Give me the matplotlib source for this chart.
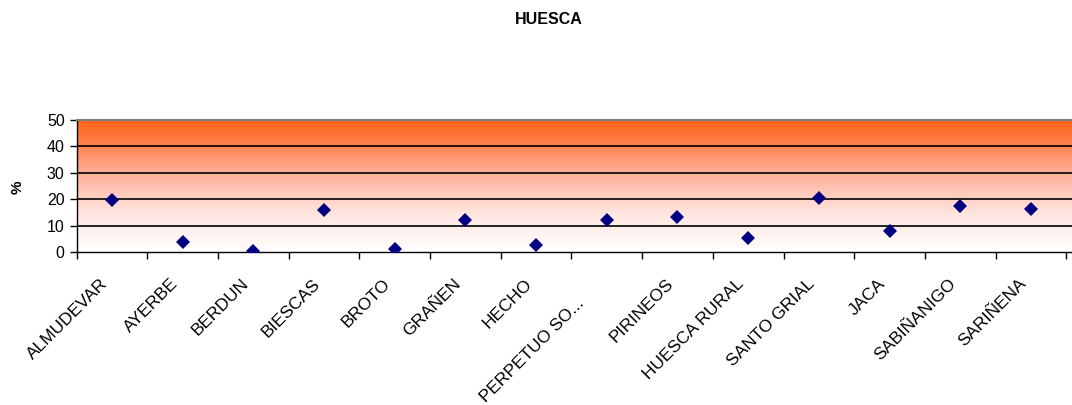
import matplotlib
matplotlib.use("Agg")
import matplotlib.pyplot as plt
import matplotlib.transforms as mtransforms
from matplotlib.colors import LinearSegmentedColormap
import numpy as np

plt.rcParams['font.family'] = ['Liberation Sans', 'DejaVu Sans']

# data
comarcas = ['ALMUDEVAR', 'AYERBE', 'BERDUN', 'BIESCAS', 'BROTO', 'GRAÑEN',
            'HECHO', 'PERPETUO SO...', 'PIRINEOS', 'HUESCA RURAL',
            'SANTO GRIAL', 'JACA', 'SABIÑANIGO', 'SARIÑENA']
porcentaje = [19.8, 3.8, 0.5, 15.9, 1.0, 12.1, 2.7, 12.1, 13.1, 5.4,
              20.3, 8.1, 17.4, 16.3]
y_ticks = [0, 10, 20, 30, 40, 50]


def main():
    fig = plt.figure(figsize=(10.72, 4.05), dpi=100)
    ax = fig.add_axes([76.5 / 1072, 1 - 252 / 405, 1 - 76.5 / 1072, 132 / 405])

    n = len(comarcas)
    x = np.arange(n)
    x_max = -0.5 + (1072 - 76.5) / 70.7

    # background gradient (white at bottom -> orange at top)
    cmap = LinearSegmentedColormap.from_list(
        'huesca', [(0.0, '#FFFFFF'), (0.3, '#FFE4DE'), (0.6, '#FFAE98'),
                   (0.85, '#FF7A45'), (1.0, '#FF6418')])
    grad = np.linspace(0, 1, 256).reshape(-1, 1)
    ax.imshow(grad, cmap=cmap, origin='lower', aspect='auto',
              extent=[-0.5, x_max, 0, 50], zorder=0)

    for t in y_ticks[1:-1]:
        ax.axhline(t, color='black', lw=1.2, zorder=1)

    ax.plot(x, porcentaje, linestyle='none', marker='D', markersize=7.6,
            color='#000080', markeredgewidth=0, zorder=3)

    ax.set_xlim(-0.5, x_max)
    ax.set_ylim(0, 50)
    ax.set_yticks(y_ticks)
    ax.tick_params(axis='y', labelsize=11.5, length=5, width=1, direction='out')

    # category boundaries as ticks, labels placed by hand
    ax.set_xticks(np.arange(0, n + 1) - 0.5)
    ax.set_xticklabels([])
    ax.tick_params(axis='x', length=5, width=1, direction='out')
    for i, name in enumerate(comarcas):
        dx, dy = -12, -24
        if name.startswith('PERPETUO'):
            dx, dy = -30, -44
        off = mtransforms.ScaledTranslation(dx / 100, dy / 100, fig.dpi_scale_trans)
        tr = mtransforms.blended_transform_factory(ax.transData, ax.transAxes) + off
        ax.text(i, 0, name, transform=tr, rotation=45, ha='right', va='top',
                rotation_mode='anchor', fontsize=12.5)

    ax.spines['right'].set_visible(False)
    ax.spines['top'].set_color('#808080')
    ax.spines['top'].set_linewidth(1.5)
    ax.spines['left'].set_linewidth(1)
    ax.spines['bottom'].set_linewidth(1)

    fig.text(549 / 1072, 1 - 20 / 405, 'HUESCA', ha='center', va='center',
             fontsize=11.5, fontweight='bold')
    fig.text(18 / 1072, 1 - 187 / 405, '%', ha='center', va='center',
             rotation=90, fontsize=11, fontweight='bold')

    fig.savefig('out.png', dpi=100)


if __name__ == "__main__":
    main()
